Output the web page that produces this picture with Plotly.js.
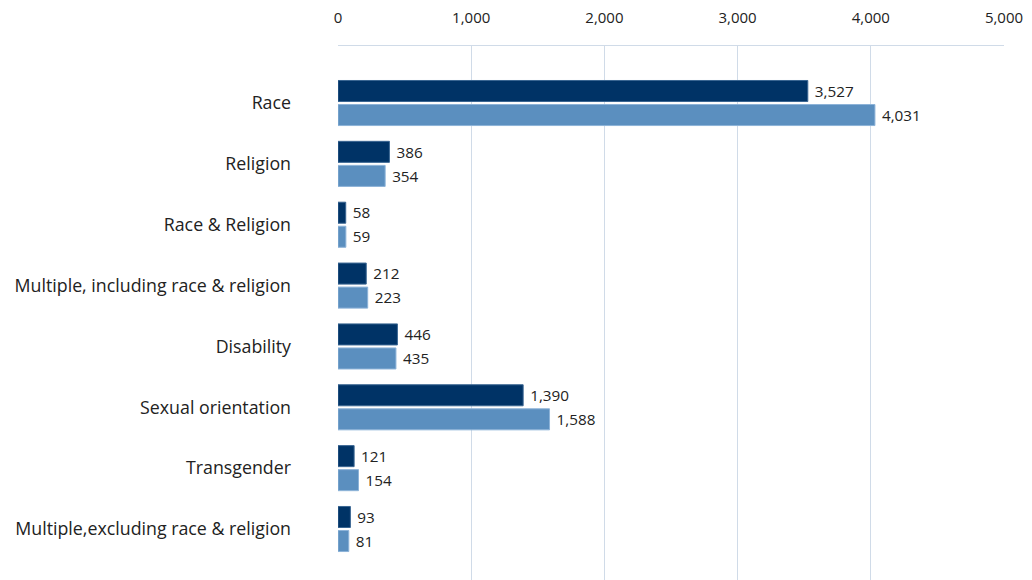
<!DOCTYPE html>
<html>
<head>
<meta charset="utf-8">
<script src="https://cdn.plot.ly/plotly-3.0.1.min.js"></script>
<style>html,body{margin:0;padding:0;background:#fff;}#chart{width:1032px;height:580px;}</style>
</head>
<body>
<div id="chart"></div>
<script>
const categories = ["Race", "Religion", "Race & Religion", "Multiple, including race & religion", "Disability", "Sexual orientation", "Transgender", "Multiple,excluding race & religion"];
const seriesAValues = [3527, 386, 58, 212, 446, 1390, 121, 93];
const seriesBValues = [4031, 354, 59, 223, 435, 1588, 154, 81];
const xTickValues = [0, 1000, 2000, 3000, 4000, 5000];
const xTickLabels = ["0", "1,000", "2,000", "3,000", "4,000", "5,000"];

const font = "'Open Sans', Lato, sans-serif";
const fmt = v => " " + v.toLocaleString("en-US");
const traces = [
  {type: "bar", orientation: "h", name: "Year 1", y: categories, x: seriesAValues,
   marker: {color: "#003366", line: {color: "#3a6692", width: 1}},
   text: seriesAValues.map(fmt), textposition: "outside", cliponaxis: false,
   textfont: {family: font, size: 16, color: "#222"}, hoverinfo: "x+y"},
  {type: "bar", orientation: "h", name: "Year 2", y: categories, x: seriesBValues,
   marker: {color: "#5b8fbf", line: {color: "#8db3d8", width: 1}},
   text: seriesBValues.map(fmt), textposition: "outside", cliponaxis: false,
   textfont: {family: font, size: 16, color: "#222"}, hoverinfo: "x+y"}
];

const layout = {
  width: 1032, height: 580,
  margin: {l: 338, r: 28, t: 46, b: 0},
  paper_bgcolor: "#fff", plot_bgcolor: "#fff",
  showlegend: false,
  barmode: "group", bargap: 0.21, bargroupgap: 0.125,
  font: {family: font, size: 16, color: "#222"},
  xaxis: {side: "top", range: [0, 5000], tickvals: xTickValues, ticktext: xTickLabels,
          showgrid: true, gridcolor: "#d0dbe8", gridwidth: 1, zeroline: false,
          showline: true, linecolor: "#d0dbe8", linewidth: 1, ticks: "", ticklabelstandoff: 16,
          tickfont: {family: font, size: 15, color: "#222"}, fixedrange: true},
  yaxis: {type: "category", autorange: false, range: [7.838, -0.937], showgrid: false, zeroline: false,
          ticks: "", ticklabelstandoff: 46, tickfont: {family: font, size: 17.8, color: "#222"}, fixedrange: true}
};

Plotly.newPlot("chart", traces, layout, {displayModeBar: false, staticPlot: true});
</script>
</body>
</html>
